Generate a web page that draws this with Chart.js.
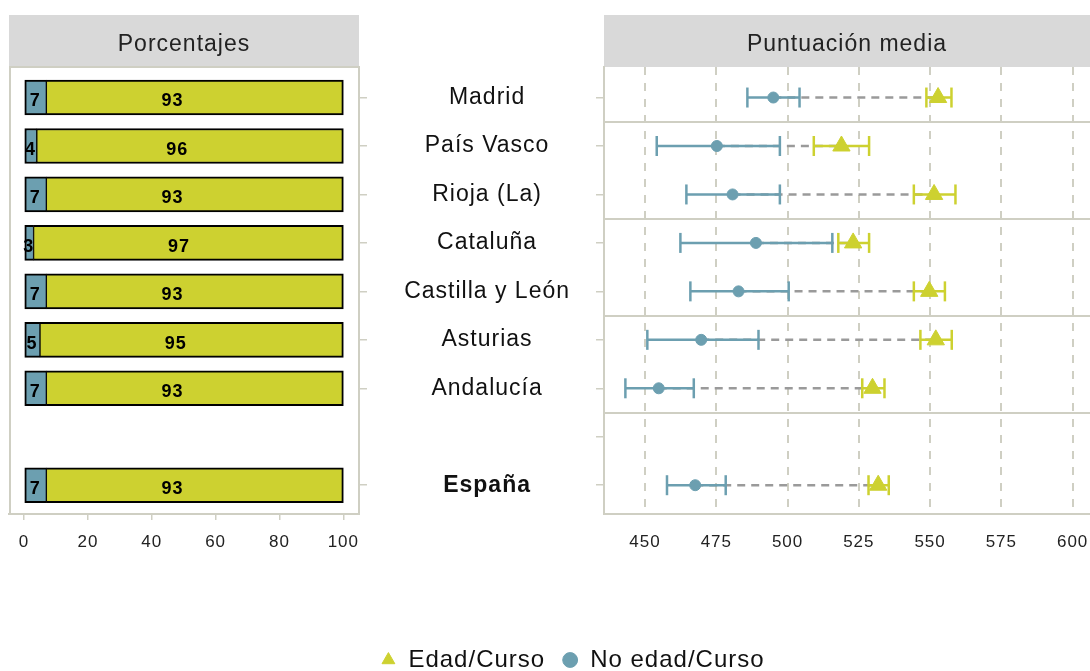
<!DOCTYPE html>
<html lang="es">
<head>
<meta charset="utf-8">
<title>Porcentajes y puntuación media</title>
<script src="https://cdn.jsdelivr.net/npm/chart.js@4.4.1/dist/chart.umd.min.js"></script>
<style>
  html, body { margin: 0; padding: 0; background: #fff; overflow: hidden; }
  #lienzo { position: relative; width: 1090px; height: 671px; }
  #lienzo canvas { position: absolute; top: 0; left: 0; }
</style>
</head>
<body>
<div id="lienzo">
  <canvas id="grafico-porcentajes" width="367" height="671"></canvas>
  <canvas id="grafico-puntuacion" width="1090" height="671"></canvas>
</div>
<script>
// ---- Datos ----
const regiones = ['Madrid', 'País Vasco', 'Rioja (La)', 'Cataluña', 'Castilla y León', 'Asturias', 'Andalucía', '', 'España'];
const pctNoEdad = [7, 4, 7, 3, 7, 5, 7, null, 7];
const pctEdad = [93, 96, 93, 97, 93, 95, 93, null, 93];

const mediaEdad = [552.8, 518.9, 551.4, 523.0, 549.7, 552.0, 529.8, null, 531.8];
const infEdad = [548.7, 509.2, 544.3, 517.8, 544.3, 546.6, 526.2, null, 528.4];
const supEdad = [557.5, 528.6, 558.9, 528.6, 555.2, 557.6, 534.0, null, 535.5];

const mediaNoEdad = [495.0, 475.2, 480.7, 488.9, 482.8, 469.7, 454.8, null, 467.6];
const infNoEdad = [485.9, 454.1, 464.5, 462.4, 465.9, 450.8, 443.1, null, 457.7];
const supNoEdad = [504.2, 497.3, 497.3, 515.7, 500.4, 489.8, 467.1, null, 478.3];

const ticksPorcentaje = [0, 20, 40, 60, 80, 100];
const ticksPuntuacion = [450, 475, 500, 525, 550, 575, 600];
const separadores = [1.5, 3.5, 5.5, 7.5];

// ---- Estilo ----
const azul = '#6c9fb0';
const amarillo = '#cdd130';
const gris = '#cfcfc3';
const FILA_MIN = 0.37;
const FILA_MAX = 9.594;

Chart.defaults.font.family = "'Liberation Sans', Arial, sans-serif";
Chart.defaults.color = '#222';

// filas con datos -> {x, y}
function puntos(valores) {
    const out = [];
    valores.forEach(function (v, i) {
        if (v !== null) out.push({ x: v, y: i + 1 });
    });
    return out;
}

// tramos horizontales separados por huecos
function segmentos(desde, hasta) {
    const out = [];
    regiones.forEach(function (r, i) {
        if (desde[i] === null) return;
        out.push({ x: desde[i], y: i + 1 }, { x: hasta[i], y: i + 1 }, { x: null, y: i + 1 });
    });
    return out;
}

function ticksFilas(soloConDatos) {
    return function (scale) {
        const t = [];
        regiones.forEach(function (r, i) {
            if (soloConDatos && pctEdad[i] === null) return;
            t.push({ value: i + 1 });
        });
        scale.ticks = t;
    };
}

// ---- Plugins ----
const espaciado = {
    id: 'espaciado',
    beforeUpdate: function (chart) {
        chart.ctx.letterSpacing = '1px';
    }
};

const tira = {
    id: 'tira',
    beforeDraw: function (chart) {
        const ca = chart.chartArea;
        const ctx = chart.ctx;
        ctx.save();
        ctx.fillStyle = '#d9d9d9';
        ctx.fillRect(ca.left, 15, ca.right - ca.left, ca.top - 15);
        ctx.restore();
    }
};

const marco = {
    id: 'marco',
    beforeDatasetsDraw: function (chart) {
        const ca = chart.chartArea;
        const ctx = chart.ctx;
        ctx.save();
        ctx.strokeStyle = gris;
        ctx.lineWidth = 2;
        ctx.strokeRect(ca.left + 1, ca.top, ca.right - ca.left - 1, ca.bottom - ca.top);
        ctx.restore();
    }
};

// etiquetas de las barras (en v/2, como en el original)
const etiquetasBarras = {
    id: 'etiquetasBarras',
    afterDatasetsDraw: function (chart) {
        const ctx = chart.ctx;
        const x = chart.scales.x;
        ctx.save();
        ctx.font = "bold 18px 'Liberation Sans', Arial, sans-serif";
        ctx.fillStyle = '#000';
        ctx.textAlign = 'center';
        ctx.textBaseline = 'middle';
        chart.data.datasets.forEach(function (ds, d) {
            chart.getDatasetMeta(d).data.forEach(function (barra, i) {
                const v = ds.data[i].x;
                ctx.fillText(String(v), x.getPixelForValue(v / 2), barra.y + 4);
            });
        });
        ctx.restore();
    }
};

// ---- Panel izquierdo: porcentajes ----
new Chart(document.getElementById('grafico-porcentajes'), {
    type: 'bar',
    data: {
        datasets: [
            {
                label: 'No edad/Curso',
                data: puntos(pctNoEdad),
                backgroundColor: azul,
                borderColor: '#000',
                borderWidth: { top: 2, bottom: 2, left: 2, right: 1 },
                borderSkipped: false,
                barThickness: 35
            },
            {
                label: 'Edad/Curso',
                data: puntos(pctEdad),
                backgroundColor: amarillo,
                borderColor: '#000',
                borderWidth: { top: 2, bottom: 2, left: 1, right: 2 },
                borderSkipped: false,
                barThickness: 35
            }
        ]
    },
    options: {
        indexAxis: 'y',
        responsive: false,
        animation: false,
        events: [],
        layout: { autoPadding: false, padding: { top: 15, left: 9, right: 0, bottom: 0 } },
        scales: {
            x: {
                type: 'linear',
                stacked: true,
                min: -4.7,
                max: 104.9,
                afterBuildTicks: function (s) { s.ticks = ticksPorcentaje.map(function (v) { return { value: v }; }); },
                afterFit: function (s) { s.height = 157; s.paddingLeft = 0; s.paddingRight = 0; },
                grid: { drawOnChartArea: false, tickLength: 6, color: gris, lineWidth: 1.5 },
                border: { display: true, color: gris, width: 2 },
                ticks: { font: { size: 17 }, padding: 12, color: '#222', maxRotation: 0, autoSkip: false }
            },
            y: {
                type: 'linear',
                stacked: true,
                offset: false,
                reverse: true,
                position: 'right',
                min: FILA_MIN,
                max: FILA_MAX,
                afterBuildTicks: ticksFilas(true),
                afterFit: function (s) { s.width = 8; },
                grid: { drawOnChartArea: false, offset: false, tickLength: 8, color: gris, lineWidth: 1.5 },
                border: { display: true, color: gris, width: 2 },
                ticks: { display: false }
            }
        },
        plugins: {
            legend: { display: false },
            tooltip: { enabled: false },
            title: {
                display: true,
                text: 'Porcentajes',
                fullSize: false,
                padding: { top: 16, bottom: 8.4 },
                font: { size: 23, weight: 'normal' },
                color: '#222'
            }
        }
    },
    plugins: [espaciado, tira, marco, etiquetasBarras]
});

// ---- Panel derecho: puntuación media ----
new Chart(document.getElementById('grafico-puntuacion'), {
    type: 'scatter',
    data: {
        datasets: [
            {
                label: 'Edad/Curso',
                data: puntos(mediaEdad),
                pointStyle: 'triangle',
                pointRadius: 10,
                backgroundColor: amarillo,
                borderColor: amarillo,
                pointBorderWidth: 1
            },
            {
                label: 'No edad/Curso',
                data: puntos(mediaNoEdad),
                pointStyle: 'circle',
                pointRadius: 5.5,
                backgroundColor: azul,
                borderColor: azul,
                pointBorderWidth: 1
            },
            {
                label: 'IC Edad/Curso',
                data: segmentos(infEdad, supEdad),
                showLine: true,
                borderColor: amarillo,
                borderWidth: 2.5,
                pointStyle: 'line',
                pointRotation: 90,
                pointRadius: 10,
                pointBorderColor: amarillo,
                pointBorderWidth: 2.5
            },
            {
                label: 'IC No edad/Curso',
                data: segmentos(infNoEdad, supNoEdad),
                showLine: true,
                borderColor: azul,
                borderWidth: 2.5,
                pointStyle: 'line',
                pointRotation: 90,
                pointRadius: 10,
                pointBorderColor: azul,
                pointBorderWidth: 2.5
            },
            {
                label: 'Diferencia',
                data: segmentos(mediaNoEdad, mediaEdad),
                showLine: true,
                borderColor: '#9a9a9a',
                borderWidth: 2.5,
                borderDash: [8, 6],
                pointRadius: 0
            }
        ]
    },
    options: {
        responsive: false,
        animation: false,
        events: [],
        layout: { autoPadding: false, padding: { top: 15, left: 55, right: 0, bottom: -11 } },
        scales: {
            x: {
                type: 'linear',
                min: 435.6,
                max: 606.1,
                afterBuildTicks: function (s) { s.ticks = ticksPuntuacion.map(function (v) { return { value: v }; }); },
                afterFit: function (s) { s.height = 117; s.paddingLeft = 0; s.paddingRight = 0; },
                grid: { color: gris, lineWidth: 2, tickLength: 6, tickColor: 'rgba(0,0,0,0)' },
                border: { display: true, color: gris, width: 2, dash: [8, 8] },
                ticks: { font: { size: 17 }, padding: 12, color: '#222', maxRotation: 0, autoSkip: false }
            },
            y: {
                type: 'linear',
                position: 'left',
                reverse: true,
                min: FILA_MIN,
                max: FILA_MAX,
                afterBuildTicks: ticksFilas(false),
                afterFit: function (s) { s.width = 549; },
                grid: { drawOnChartArea: false, tickLength: 8, color: gris, lineWidth: 1.5 },
                border: { display: true, color: gris, width: 2 },
                ticks: {
                    callback: function (v) { return regiones[v - 1]; },
                    crossAlign: 'center',
                    padding: 26,
                    autoSkip: false,
                    color: '#111',
                    font: function (c) {
                        const negrita = c.tick && regiones[c.tick.value - 1] === 'España';
                        return { size: 23, weight: negrita ? 'bold' : 'normal' };
                    }
                }
            },
            ySep: {
                type: 'linear',
                position: 'left',
                reverse: true,
                min: FILA_MIN,
                max: FILA_MAX,
                afterBuildTicks: function (s) { s.ticks = separadores.map(function (v) { return { value: v }; }); },
                afterFit: function (s) { s.width = 0; },
                grid: { drawOnChartArea: true, drawTicks: false, color: gris, lineWidth: 2 },
                border: { display: false },
                ticks: { display: false }
            }
        },
        plugins: {
            legend: {
                position: 'bottom',
                labels: {
                    usePointStyle: true,
                    boxWidth: 16,
                    boxHeight: 10.5,
                    padding: 17,
                    color: '#111',
                    font: { size: 24 },
                    filter: function (item) { return item.datasetIndex < 2; }
                }
            },
            tooltip: { enabled: false },
            title: {
                display: true,
                text: 'Puntuación media',
                fullSize: false,
                padding: { top: 16, bottom: 8.4 },
                font: { size: 23, weight: 'normal' },
                color: '#222'
            }
        }
    },
    plugins: [espaciado, tira]
});
</script>
</body>
</html>
